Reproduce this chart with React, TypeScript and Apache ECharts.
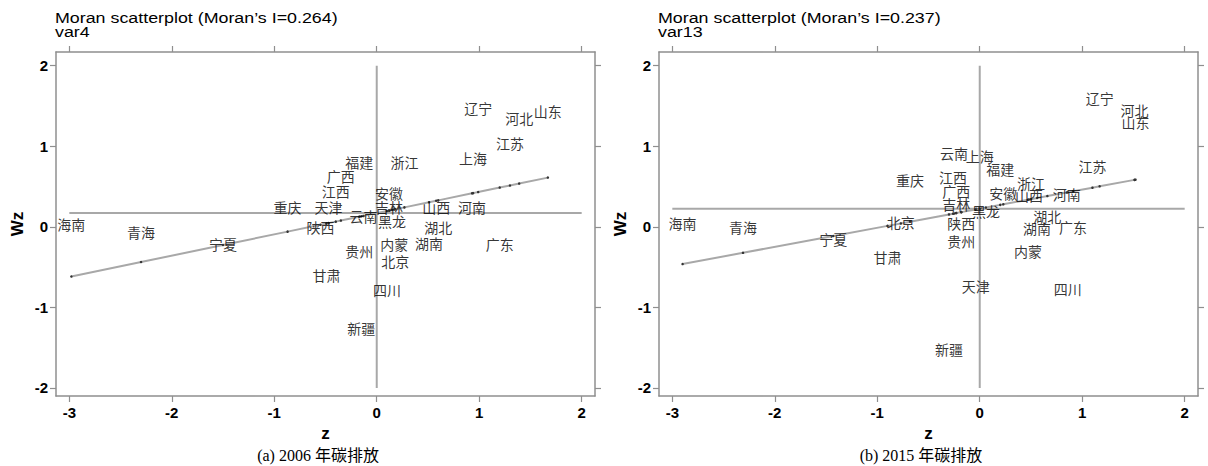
import React, { useEffect, useRef } from "react";
import * as echarts from "echarts";

// ---------- data: (a) 2006 ----------
const provincesA = ["辽宁", "河北", "山东", "江苏", "上海", "福建", "浙江", "广西", "江西", "安徽", "重庆", "天津", "吉林", "山西", "河南", "云南", "黑龙", "陕西", "湖北", "内蒙", "湖南", "广东", "贵州", "北京", "甘肃", "四川", "新疆", "海南", "青海", "宁夏"];
const zA = [0.99, 1.39, 1.67, 1.30, 0.94, -0.17, 0.27, -0.35, -0.40, 0.12, -0.87, -0.47, 0.12, 0.58, 0.93, -0.13, 0.15, -0.55, 0.60, 0.17, 0.51, 1.20, -0.17, 0.18, -0.49, 0.10, -0.15, -2.98, -2.30, -1.50];
const wzA = [1.47, 1.35, 1.44, 1.04, 0.85, 0.80, 0.80, 0.63, 0.44, 0.42, 0.25, 0.25, 0.24, 0.25, 0.25, 0.13, 0.07, 0.00, 0.00, -0.21, -0.20, -0.21, -0.30, -0.43, -0.60, -0.79, -1.26, 0.03, -0.07, -0.21];
const moranA = 0.264;
const meanWzA = 0.17;

// ---------- data: (b) 2015 ----------
const provincesB = ["辽宁", "河北", "山东", "云南", "上海", "福建", "江苏", "重庆", "江西", "浙江", "广西", "安徽", "山西", "河南", "吉林", "黑龙", "北京", "陕西", "湖北", "湖南", "广东", "贵州", "内蒙", "甘肃", "天津", "四川", "新疆", "海南", "青海", "宁夏"];
const zB = [1.17, 1.51, 1.52, -0.25, 0.0, 0.20, 1.10, -0.68, -0.26, 0.50, -0.23, 0.23, 0.48, 0.85, -0.23, 0.06, -0.77, -0.18, 0.66, 0.56, 0.91, -0.18, 0.47, -0.90, -0.04, 0.86, -0.30, -2.90, -2.31, -1.43];
const wzB = [1.60, 1.45, 1.30, 0.92, 0.88, 0.72, 0.75, 0.58, 0.62, 0.54, 0.45, 0.42, 0.40, 0.41, 0.28, 0.20, 0.06, 0.05, 0.14, -0.02, 0.00, -0.18, -0.30, -0.37, -0.73, -0.77, -1.52, 0.05, 0.00, -0.15];
const moranB = 0.237;
const meanWzB = 0.225;

const titlesA = ["Moran scatterplot (Moran’s I=0.264)", "var4"];
const titlesB = ["Moran scatterplot (Moran’s I=0.237)", "var13"];
const captionA = "(a) 2006 年碳排放";
const captionB = "(b) 2015 年碳排放";

const xTicks = [-3, -2, -1, 0, 1, 2];
const yTicks = [-2, -1, 0, 1, 2];
const xRange = [-3.13, 2.13];
const yRange = [-2.1, 2.17];
const xRefSpan = [-3, 2];
const yRefSpan = [-2, 2];

const GRAY = "#a8a8a8";
const FRAME = "#8f8f8f";
const SANS = "'Liberation Sans', Arial, sans-serif";
const CJK = "'Noto Sans CJK SC', sans-serif";

const GRID_L = { left: 56, top: 52, width: 539, height: 344 };
const GRID_R = { left: 659, top: 52, width: 539, height: 344 };

function buildAxes(gridIndex: number) {
  const tickLabel = {
    fontSize: 15,
    fontWeight: "bold" as const,
    color: "#000",
    fontFamily: SANS,
  };
  const line = { show: true, onZero: false, lineStyle: { color: FRAME, width: 1.5 } };
  const tick = (vals: number[]) => ({
    show: true,
    length: 6,
    inside: false,
    customValues: vals,
    lineStyle: { color: FRAME, width: 1.2 },
  });
  const nameStyle = { fontSize: 17, fontWeight: "bold", fontFamily: SANS, color: "#000" };
  const xs = [
    {
      type: "value",
      gridIndex,
      position: "bottom",
      min: xRange[0],
      max: xRange[1],
      axisLine: line,
      axisTick: tick(xTicks),
      axisLabel: { ...tickLabel, margin: 9, customValues: xTicks },
      splitLine: { show: false },
      name: "z",
      nameLocation: "middle",
      nameGap: 26,
      nameTextStyle: nameStyle,
    },
    {
      type: "value",
      gridIndex,
      position: "top",
      min: xRange[0],
      max: xRange[1],
      axisLine: line,
      axisTick: tick(xTicks),
      axisLabel: { show: false },
      splitLine: { show: false },
    },
  ];
  const ys = [
    {
      type: "value",
      gridIndex,
      position: "left",
      min: yRange[0],
      max: yRange[1],
      axisLine: line,
      axisTick: tick(yTicks),
      axisLabel: { ...tickLabel, margin: 8, customValues: yTicks },
      splitLine: { show: false },
      name: "Wz",
      nameLocation: "middle",
      nameGap: 30,
      nameRotate: 90,
      nameTextStyle: nameStyle,
    },
    {
      type: "value",
      gridIndex,
      position: "right",
      min: yRange[0],
      max: yRange[1],
      axisLine: line,
      axisTick: tick(yTicks),
      axisLabel: { show: false },
      splitLine: { show: false },
    },
  ];
  return { xs, ys };
}

function buildSeries(
  axisIndex: number,
  names: string[],
  z: number[],
  wz: number[],
  slope: number,
  meanWz: number
) {
  const sortedZ = [...z].sort((a, b) => a - b);
  const fit = sortedZ.map((v) => [v, meanWz + slope * v]);
  return [
    {
      type: "line",
      xAxisIndex: axisIndex,
      yAxisIndex: axisIndex,
      data: [[xRefSpan[0], meanWz], [xRefSpan[1], meanWz]],
      symbol: "none",
      lineStyle: { color: GRAY, width: 2 },
      z: 1,
      silent: true,
    },
    {
      type: "line",
      xAxisIndex: axisIndex,
      yAxisIndex: axisIndex,
      data: [[0, yRefSpan[0]], [0, yRefSpan[1]]],
      symbol: "none",
      lineStyle: { color: GRAY, width: 2 },
      z: 1,
      silent: true,
    },
    {
      type: "line",
      xAxisIndex: axisIndex,
      yAxisIndex: axisIndex,
      data: fit,
      symbol: "circle",
      symbolSize: 2.5,
      showSymbol: true,
      itemStyle: { color: "#333" },
      lineStyle: { color: GRAY, width: 2 },
      z: 2,
      silent: true,
    },
    {
      type: "scatter",
      xAxisIndex: axisIndex,
      yAxisIndex: axisIndex,
      data: names.map((n, i) => ({ name: n, value: [z[i], wz[i]] })),
      symbolSize: 1,
      itemStyle: { color: "rgba(0,0,0,0)" },
      label: {
        show: true,
        position: [0.5, 0.5],
        align: "center",
        verticalAlign: "middle",
        formatter: "{b}",
        color: "#000",
        textBorderWidth: 0,
        fontSize: 14,
        fontFamily: CJK,
      },
      z: 5,
      silent: true,
    },
  ];
}

function titleText(text: string, x: number, y: number) {
  return {
    type: "text",
    x,
    y,
    scaleX: 1.19,
    style: {
      text,
      fontSize: 15,
      fontFamily: SANS,
      fill: "#000",
      align: "left",
      verticalAlign: "top",
    },
  };
}

function caption(text: string, x: number) {
  return {
    type: "text",
    x,
    y: 455,
    style: {
      text,
      fontSize: 16,
      fontFamily: "'Liberation Serif', 'Noto Sans CJK SC', serif",
      fill: "#000",
      align: "center",
      verticalAlign: "middle",
    },
  };
}

export default function App() {
  const ref = useRef<HTMLDivElement>(null);
  useEffect(() => {
    document.body.style.margin = "0";
    if (!ref.current) return;
    const chart = echarts.init(ref.current, null, { renderer: "svg" });
    const a = buildAxes(0);
    const b = buildAxes(1);
    const option = {
      animation: false,
      backgroundColor: "#fff",
      grid: [GRID_L, GRID_R],
      xAxis: [...a.xs, ...b.xs],
      yAxis: [...a.ys, ...b.ys],
      series: [
        ...buildSeries(0, provincesA, zA, wzA, moranA, meanWzA),
        ...buildSeries(2, provincesB, zB, wzB, moranB, meanWzB),
      ],
      graphic: [
        titleText(titlesA[0], 55, 10),
        titleText(titlesA[1], 55, 24),
        titleText(titlesB[0], 658, 10),
        titleText(titlesB[1], 658, 24),
        caption(captionA, 318),
        caption(captionB, 921),
      ],
    };
    chart.setOption(option as any);
    return () => chart.dispose();
  }, []);
  return <div ref={ref} style={{ width: 1208, height: 466 }} />;
}
